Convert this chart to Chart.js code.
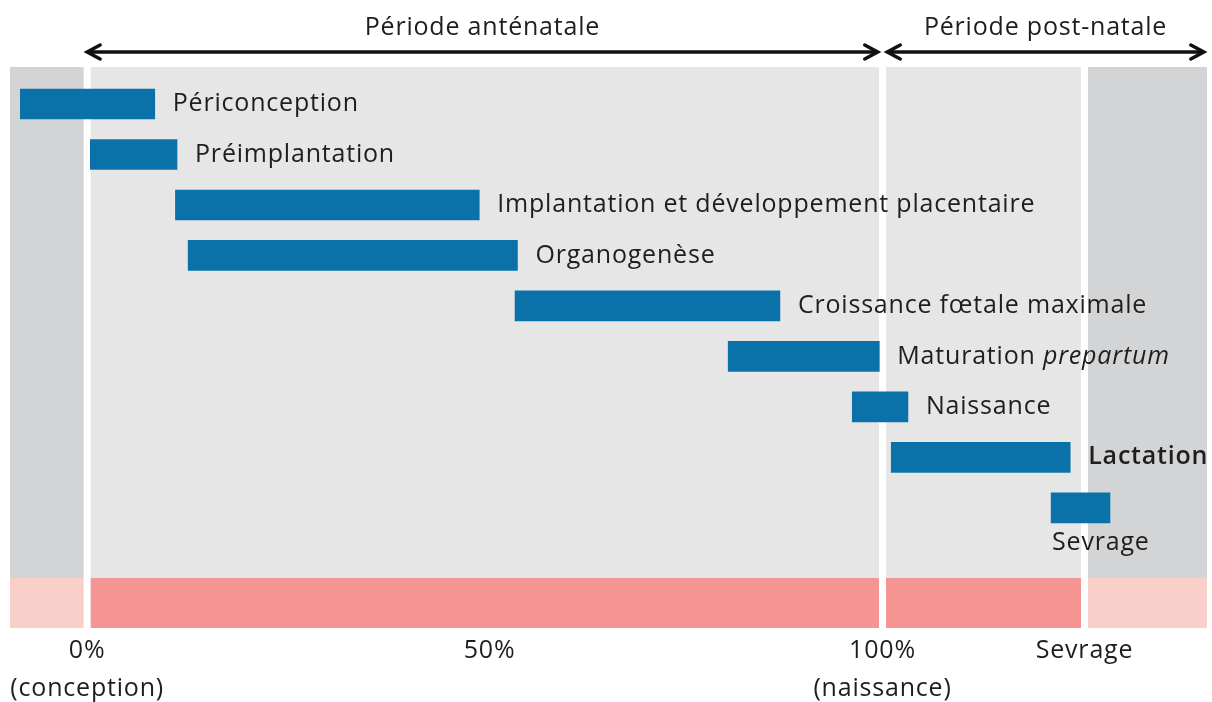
<!DOCTYPE html>
<html>
<head>
<meta charset="utf-8">
<script src="https://cdn.jsdelivr.net/npm/chart.js@4/dist/chart.umd.min.js"></script>
<style>
    body { margin: 0; background: #ffffff; overflow: hidden; }
    canvas { display: block; }
</style>
</head>
<body>
<canvas id="chart" width="1212" height="712"></canvas>
<script>
// phases (one row each), values in % of gestation
const phaseLabels = ['Périconception', 'Préimplantation', 'Implantation et développement placentaire', 'Organogenèse',
    'Croissance fœtale maximale', 'Maturation prepartum', 'Naissance', 'Lactation', 'Sevrage'];
const phaseStart = [-8.4, 0.4, 11.1, 12.7, 53.8, 80.6, 96.2, 101.1, 121.2];
const phaseEnd = [8.5, 11.3, 49.3, 54.1, 87.1, 99.6, 103.2, 123.6, 128.6];
const phaseRow = [0, 1, 2, 3, 4, 5, 6, 7, 8];

// x axis
const axisMin = -9.7;
const axisMax = 140.8;
const tickValues = [0, 50.6, 100, 125.4];
const tickLabels = [['0%', '(conception)'], ['50%'], ['100%', '(naissance)'], ['Sevrage']];

// background zones, split at conception / birth / weaning
const zoneEdges = [-9.7, 0, 100, 125.4, 140.8];
const zoneInside = [false, true, true, false];

// periods shown with arrows above the chart
const periodLabels = ['Période anténatale', 'Période post-natale'];
const periodStart = [0, 100.6];
const periodEnd = [99.4, 140.4];

const FONT = '"Open Sans", sans-serif';
const TEXT = '#1e1e1e';
const SPACING = '0.8px';

const backgroundPlugin =
{
    id: 'zones',
    beforeDraw(chart)
    {
        // wider letter spacing, also used by the tick labels
        chart.ctx.letterSpacing = SPACING;
    },
    beforeDatasetsDraw(chart)
    {
        const ctx = chart.ctx;
        const x = chart.scales.x;
        const y = chart.scales.y;
        const top = chart.chartArea.top;
        const split = y.getPixelForValue(9.39);
        const bottom = chart.chartArea.bottom;

        ctx.save();
        for (let i = 0; i < zoneInside.length; i++)
        {
            const x0 = x.getPixelForValue(zoneEdges[i]);
            const x1 = x.getPixelForValue(zoneEdges[i + 1]);
            ctx.fillStyle = zoneInside[i] ? '#e6e6e6' : '#d3d4d6';
            ctx.fillRect(x0, top, x1 - x0, split - top);
            ctx.fillStyle = zoneInside[i] ? '#f49594' : '#f9cfca';
            ctx.fillRect(x0, split, x1 - x0, bottom - split);
        }

        // white separators
        ctx.fillStyle = '#ffffff';
        for (let i = 1; i < zoneEdges.length - 1; i++)
        {
            const px = x.getPixelForValue(zoneEdges[i]);
            ctx.fillRect(px - 3.5, top, 7, bottom - top);
        }
        ctx.restore();
    }
};

function drawArrowHead(ctx, px, py, dir)
{
    ctx.beginPath();
    ctx.moveTo(px - dir * 13, py - 7);
    ctx.lineTo(px, py);
    ctx.lineTo(px - dir * 13, py + 7);
    ctx.stroke();
}

const labelPlugin =
{
    id: 'phaseText',
    afterDatasetsDraw(chart)
    {
        const ctx = chart.ctx;
        const x = chart.scales.x;
        const meta = chart.getDatasetMeta(0);

        ctx.save();
        ctx.letterSpacing = SPACING;
        ctx.fillStyle = TEXT;
        ctx.textBaseline = 'middle';
        ctx.textAlign = 'left';

        meta.data.forEach((bar, i) =>
        {
            const right = Math.max(bar.x, bar.base);
            const left = Math.min(bar.x, bar.base);
            let tx = right + 18;
            let ty = bar.y;

            // last label sits under its bar
            if (i === meta.data.length - 1)
            {
                tx = left + 1;
                ty = bar.y + bar.height / 2 + 20;
            }

            const words = phaseLabels[i].split(' ');
            words.forEach((word, w) =>
            {
                let style = '';
                if (word === 'prepartum') style = 'italic ';
                if (word === 'Lactation') style = '600 ';
                ctx.font = style + '25px ' + FONT;
                const text = w < words.length - 1 ? word + ' ' : word;
                ctx.fillText(text, tx, ty);
                tx += ctx.measureText(text).width;
            });
        });

        // period arrows
        ctx.strokeStyle = '#111111';
        ctx.lineWidth = 3.5;
        ctx.lineCap = 'round';
        ctx.lineJoin = 'miter';
        ctx.textAlign = 'center';
        ctx.font = '25px ' + FONT;
        for (let i = 0; i < periodLabels.length; i++)
        {
            const x0 = x.getPixelForValue(periodStart[i]);
            const x1 = x.getPixelForValue(periodEnd[i]);
            const ay = 52;
            ctx.beginPath();
            ctx.moveTo(x0 + 2, ay);
            ctx.lineTo(x1 - 2, ay);
            ctx.stroke();
            drawArrowHead(ctx, x0, ay, -1);
            drawArrowHead(ctx, x1, ay, 1);
            ctx.fillText(periodLabels[i], (x0 + x1) / 2, 28);
        }
        ctx.restore();
    }
};

const data =
{
    labels: phaseLabels,
    datasets:
    [
        {
            label: 'Phases',
            data: phaseRow.map((row, i) => ({ y: row, x: [phaseStart[i], phaseEnd[i]] })),
            backgroundColor: '#0b72a9',
            borderWidth: 0,
            barThickness: 30
        }
    ]
};

const config =
{
    type: 'bar',
    data: data,
    options:
    {
        indexAxis: 'y',
        responsive: false,
        animation: false,
        layout:
        {
            padding: { left: 10, right: 5, top: 67, bottom: 0 }
        },
        plugins:
        {
            legend: { display: false },
            tooltip: { enabled: false }
        },
        scales:
        {
            x:
            {
                type: 'linear',
                min: axisMin,
                max: axisMax,
                grid: { display: false, drawTicks: false },
                border: { display: false },
                afterBuildTicks: (scale) =>
                {
                    scale.ticks = tickValues.map(v => ({ value: v }));
                },
                ticks:
                {
                    autoSkip: false,
                    maxRotation: 0,
                    padding: 4,
                    color: TEXT,
                    font: { family: FONT, size: 25, lineHeight: '38px' },
                    callback: (value, index) => tickLabels[index]
                }
            },
            y:
            {
                type: 'linear',
                reverse: true,
                offset: false,
                min: -0.733,
                max: 10.38,
                display: false
            }
        }
    },
    plugins: [backgroundPlugin, labelPlugin]
};

new Chart(document.getElementById('chart').getContext('2d'), config);
</script>
</body>
</html>
